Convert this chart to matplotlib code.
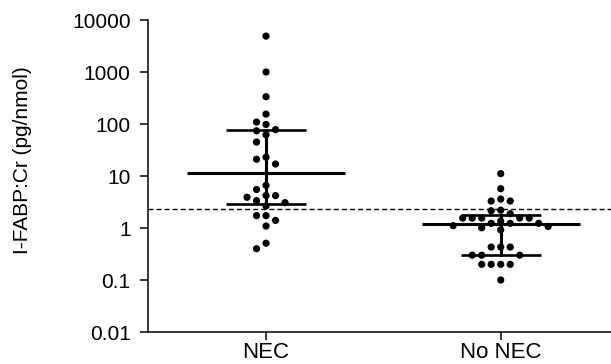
import numpy as np
import matplotlib
matplotlib.use("Agg")
import matplotlib.pyplot as plt
from matplotlib.ticker import FixedLocator, FixedFormatter, NullLocator

plt.rcParams['font.family'] = ['Liberation Sans', 'DejaVu Sans']

# data
groups = ['NEC', 'No NEC']
nec_vals = [4900, 1000, 335, 155, 109, 98, 78, 74, 62, 45, 23, 21, 17,
            6.6, 5.5, 4.2, 4.2, 3.9, 3.35, 3.07, 2.65, 1.73, 1.73, 1.4,
            1.09, 0.51, 0.4]
no_nec_vals = [11.1, 5.7, 3.6, 3.3, 3.3, 2.2, 2.15, 1.88,
               1.55, 1.55, 1.55, 1.55, 1.55, 1.36, 1.23, 1.23, 1.23,
               1.11, 1.07, 1.01, 0.92, 0.43, 0.43, 0.43,
               0.30, 0.30, 0.30, 0.20, 0.20, 0.20, 0.20, 0.10]
medians = [11.4, 1.18]
q1 = [2.85, 0.30]
q3 = [77, 1.76]
cutoff = 2.37
ytick_vals = [0.01, 0.1, 1, 10, 100, 1000, 10000]
ytick_labels = ['0.01', '0.1', '1', '10', '100', '1000', '10000']

W, H, DPI = 611, 364, 100
ax_left, ax_right, ax_top, ax_bottom = 148, 611, 20, 332
xlim = (-0.503, 1.47)
ylim = (0.01, 10000)


def swarm_offsets(vals, px_per_unit, px_per_decade, step=9.5, min_dist=8.5):
    """Simple beeswarm: place points on a horizontal grid, avoiding overlap."""
    y = np.log10(np.asarray(vals, dtype=float)) * px_per_decade
    offs = np.zeros(len(y))
    placed = []
    for i in np.argsort(-y):
        for k in range(40):
            cands = [0] if k == 0 else [-k, k]
            ok = False
            for c in cands:
                x = c * step
                if all(np.hypot(x - px, y[i] - py) >= min_dist for px, py in placed):
                    ok = True
                    break
            if ok:
                break
        placed.append((x, y[i]))
        offs[i] = x / px_per_unit
    return offs


fig = plt.figure(figsize=(W / DPI, H / DPI), dpi=DPI)
ax = fig.add_axes([ax_left / W, (H - ax_bottom) / H,
                   (ax_right - ax_left) / W, (ax_bottom - ax_top) / H])
ax.set_yscale('log')
ax.set_xlim(*xlim)
ax.set_ylim(*ylim)

px_per_unit = (ax_right - ax_left) / (xlim[1] - xlim[0])
px_per_decade = (ax_bottom - ax_top) / np.log10(ylim[1] / ylim[0])

for gi, vals in enumerate([nec_vals, no_nec_vals]):
    offs = swarm_offsets(vals, px_per_unit, px_per_decade)
    ax.scatter(gi + offs, vals, s=27, color='black', edgecolors='none',
               zorder=4, clip_on=False)
    ax.plot([gi - 0.337, gi + 0.337], [medians[gi]] * 2, color='black',
            lw=2.2, solid_capstyle='butt', zorder=3)
    for q in (q1[gi], q3[gi]):
        ax.plot([gi - 0.17, gi + 0.17], [q, q], color='black', lw=1.9,
                solid_capstyle='butt', zorder=3)
    ax.plot([gi, gi], [q1[gi], q3[gi]], color='black', lw=2.2, zorder=3)

ax.axhline(cutoff, color='black', lw=1.0, ls=(0, (3.6, 2.2)), zorder=2)

for s in ('top', 'right'):
    ax.spines[s].set_visible(False)
for s in ('left', 'bottom'):
    ax.spines[s].set_linewidth(1.1)

ax.yaxis.set_major_locator(FixedLocator(ytick_vals))
ax.yaxis.set_major_formatter(FixedFormatter(ytick_labels))
ax.yaxis.set_minor_locator(NullLocator())
ax.set_xticks([0, 1])
ax.set_xticklabels(groups)
ax.tick_params(axis='y', length=6, width=1.1, pad=6.5, labelsize=15)
ax.tick_params(axis='x', length=6, width=1.1, pad=1.0, labelsize=16)

ax.set_ylabel('I-FABP:Cr (pg/nmol)', fontsize=15)
ax.yaxis.set_label_coords((32 - ax_left) / (ax_right - ax_left),
                          (ax_bottom - 160) / (ax_bottom - ax_top))

fig.savefig('out.png', dpi=DPI)
